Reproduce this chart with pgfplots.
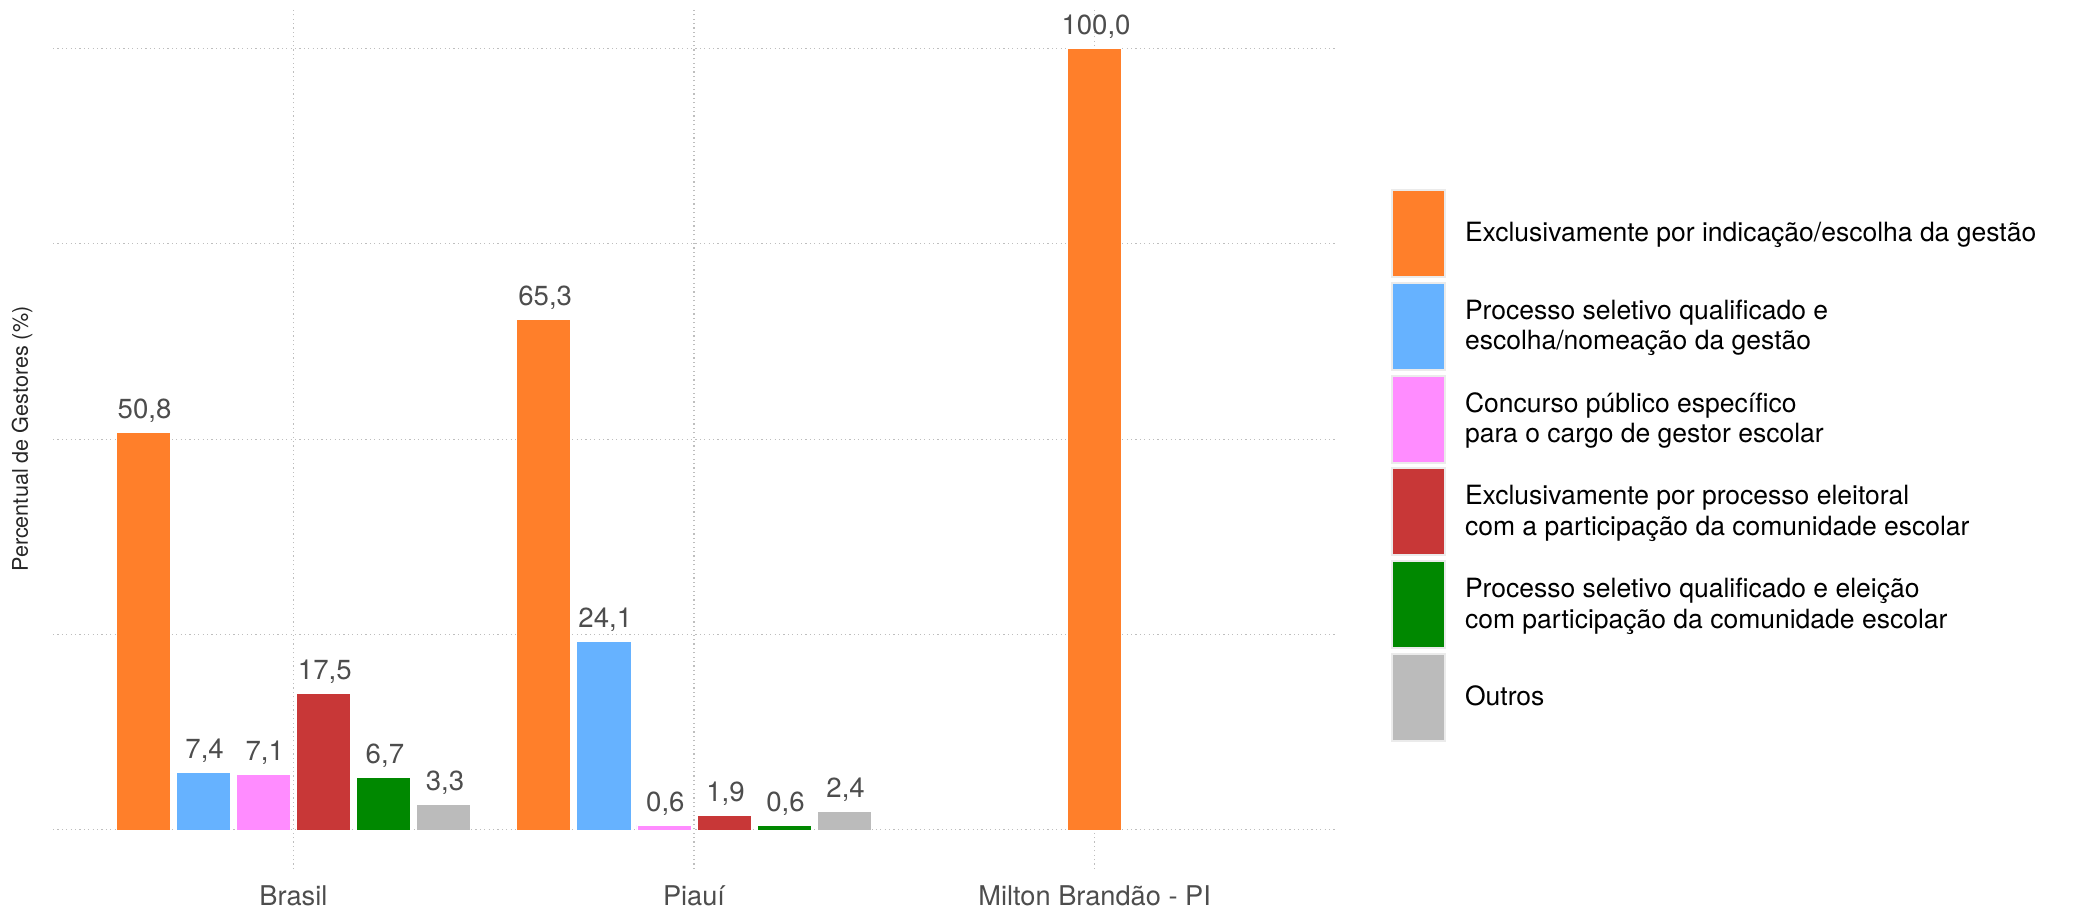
\documentclass[border=0pt]{standalone}
\usepackage{pgfplots}
\pgfplotsset{compat=1.18}
\usepackage{fontspec}
\setmainfont{TeX Gyre Heros}
\definecolor{cOrange}{HTML}{FF7F2A}
\definecolor{cBlue}{HTML}{66B2FF}
\definecolor{cPink}{HTML}{FF8CFF}
\definecolor{cRed}{HTML}{C83737}
\definecolor{cGreen}{HTML}{008800}
\definecolor{cGray}{HTML}{BBBBBB}
\definecolor{txtGray}{HTML}{4D4D4D}
\definecolor{gridGray}{HTML}{BEBEBE}
\begin{document}
\begin{tikzpicture}
\path[use as bounding box] (0,0) rectangle (1038.5pt,454.5pt);
\begin{axis}[
  at={(26.5pt,20pt)}, anchor=south west,
  scale only axis, width=641pt, height=429.9pt,
  xmin=0.4, xmax=3.6, ymin=-5, ymax=105,
  ybar, bar width=0.135,
  axis line style={draw=none},
  major tick length=0pt,
  xtick={1,2,3},
  xticklabels={Brasil, Piauí, Milton Brandão - PI},
  ytick={0,25,50,75,100},
  yticklabels={},
  xmajorgrids, ymajorgrids,
  grid style={gridGray, line width=0.55pt, dash pattern=on 0.6pt off 1.6pt},
  xticklabel style={anchor=base, yshift=-18.5pt, text=txtGray, font=\fontsize{13.6}{15}\selectfont},
  ylabel={Percentual de Gestores (\%)},
  ylabel style={at={(axis description cs:-0.0242,0.5)}, anchor=center, font=\fontsize{10.8}{12}\selectfont, text=black!85},
  /pgf/number format/assume math mode=true,
  nodes near coords={\pgfmathprintnumber[fixed, fixed zerofill, precision=1, use comma]{\pgfplotspointmeta}},
  every node near coord/.append style={anchor=base, inner sep=0pt, yshift=7pt, xshift=0.7pt, text=txtGray, font=\fontsize{13.8}{15}\selectfont},
  legend image code/.code={\draw[#1, draw=black!8, line width=1pt] (0pt,-21.75pt) rectangle (26.5pt,21.75pt);},
  legend cell align=left,
  legend style={at={(axis description cs:1.0437,0.7909)}, anchor=north west, draw=none, fill=none,
    inner sep=0pt, outer sep=0pt, row sep=1.9pt, column sep=9.5pt,
    font=\fontsize{13.25}{15.3}\selectfont, nodes={inner sep=0pt, text=black}, cells={align=left}},
]
\addplot[fill=cOrange, draw=white, line width=0.4pt, bar shift=-0.375] coordinates {(1,50.8) (2,65.3)};
\addlegendentry{Exclusivamente por indicação/escolha da gestão}
\addplot[fill=cBlue, draw=white, line width=0.4pt, bar shift=-0.225] coordinates {(1,7.4) (2,24.1)};
\addlegendentry{Processo seletivo qualificado e\\escolha/nomeação da gestão}
\addplot[fill=cPink, draw=white, line width=0.4pt, bar shift=-0.075] coordinates {(1,7.1) (2,0.6)};
\addlegendentry{Concurso público específico\\para o cargo de gestor escolar}
\addplot[fill=cRed, draw=white, line width=0.4pt, bar shift=0.075] coordinates {(1,17.5) (2,1.9)};
\addlegendentry{Exclusivamente por processo eleitoral\\com a participação da comunidade escolar}
\addplot[fill=cGreen, draw=white, line width=0.4pt, bar shift=0.225] coordinates {(1,6.7) (2,0.6)};
\addlegendentry{Processo seletivo qualificado e eleição\\com participação da comunidade escolar}
\addplot[fill=cGray, draw=white, line width=0.4pt, bar shift=0.375] coordinates {(1,3.3) (2,2.4)};
\addlegendentry{Outros}
\addplot[fill=cOrange, draw=white, line width=0.4pt, bar shift=0, forget plot] coordinates {(3,100.0)};
\end{axis}
\end{tikzpicture}
\end{document}
